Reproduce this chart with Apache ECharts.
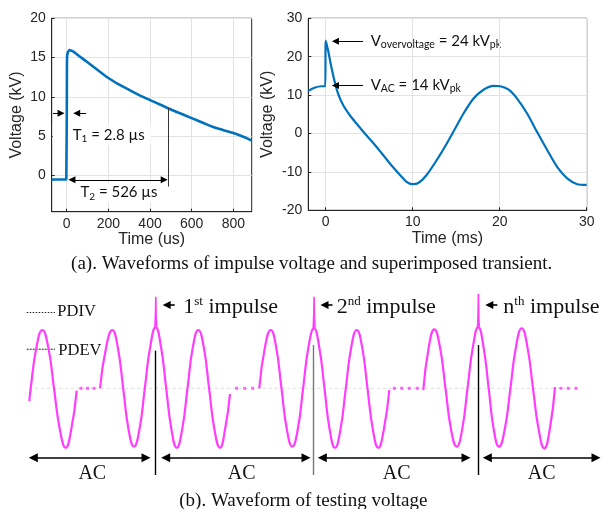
<!DOCTYPE html>
<html><head><meta charset="utf-8">
<script src="https://cdn.jsdelivr.net/npm/echarts@6/dist/echarts.min.js"></script>
<style>html,body{margin:0;padding:0;background:#fff}#c{width:606px;height:509px}</style>
</head><body><div id="c"></div>
<script>
// ---------- (a) left: impulse voltage (time in us, voltage in kV) ----------
const impulseTime = [-72,-50,-25,-2,0,0.5,1,2,4,8,14,20,30,50,75,100,150,200,250,300,350,400,450,500,550,600,650,700,750,800,850,888];
const impulseVolt = [-0.5,-0.5,-0.5,-0.5,-0.5,8,13,15.2,15.5,15.8,15.95,15.9,15.8,15.4,14.9,14.4,13.4,12.4,11.6,10.9,10.2,9.6,9.0,8.4,7.85,7.3,6.75,6.2,5.8,5.4,4.9,4.45];
const impulseXTicks = [0,200,400,600,800];
const impulseYTicks = [0,5,10,15,20];

// ---------- (a) right: superimposed transient (time in ms, voltage in kV) ----------
const transientTime = [-2,-1.3,-0.5,-0.05,0,0.27,0.65,1.04,1.42,2.0,2.77,3.54,4.5,5.85,7.38,8.54,9.3,9.96,10.65,11.6,12.77,13.92,14.88,15.84,16.99,18.14,19.3,20.07,21.03,22.0,23.15,24.3,25.46,26.6,27.76,28.9,30];
const transientVolt = [11.1,11.9,12.3,12.3,24.2,21.7,17.3,13.4,10.4,7.4,4.75,2.6,0,-3.5,-7.8,-10.8,-12.6,-13.2,-12.9,-10.8,-6.9,-2.6,1.3,5.2,9.1,11.4,12.4,12.3,11.4,9.1,5.2,0.4,-4.3,-8.7,-11.7,-13.2,-13.4];
const transientXTicks = [0,10,20,30];

// ---------- (b) schematic testing voltage (x: schematic position, y: per-unit of AC peak) ----------
const acSeg1 = [[29.3,-0.22],[30.7,0],[36.5,0.71],[42.3,1],[48.2,0.71],[54,0],[59.9,-0.71],[65.7,-1.02],[71.2,-0.71],[76.7,-0.04]];
const acSeg2 = [[100,0],[106.2,0.71],[112.3,1],[117.7,0.71],[123.2,0],[128.6,-0.71],[134,-1.0],[139.4,-0.71],[144.8,0],[150.2,0.71],[155.7,1.05],[161,0.71],[166.2,0],[171.5,-0.71],[176.7,-1.02],[182.1,-0.71],[187.5,0],[192.9,0.71],[198.3,1.0],[203.7,0.71],[209.1,0],[214.5,-0.71],[220,-1.02],[225,-0.71],[230,-0.1]];
const acSeg3 = [[259.3,0],[265,0.71],[270.7,1],[276.1,0.71],[281.5,0],[286.9,-0.71],[292.3,-1.0],[297.7,-0.71],[303.1,0],[308.5,0.71],[314,1.03],[319.2,0.71],[324.5,0],[329.7,-0.71],[335,-1.02],[340.4,-0.71],[345.8,0],[351.3,0.71],[356.7,1],[362.1,0.71],[367.5,0],[372.9,-0.71],[378.3,-1.02],[383.8,-0.71],[389.3,-0.03]];
const acSeg4 = [[423.3,-0.03],[428.8,0.71],[434.3,1.01],[439.9,0.71],[445.5,0],[451.1,-0.71],[456.7,-1.0],[462.1,-0.71],[467.5,0],[472.9,0.71],[478.3,1.05],[483.5,0.71],[488.7,0],[493.8,-0.71],[499,-1.0],[504.7,-0.71],[510.4,0],[516,0.71],[521.7,1.03],[527.4,0.71],[533,0],[538.7,-0.71],[544.3,-1.03],[549.7,-0.71],[555,0.02]];
const spike1 = [[154.9,1.02],[155.5,1.3],[155.8,1.57],[156.2,1.2],[156.7,1.06]];
const spike2 = [[313.2,1.0],[313.8,1.3],[314.1,1.57],[314.5,1.2],[315,1.04]];
const spike3 = [[477.5,1.02],[478.1,1.3],[478.4,1.62],[478.8,1.2],[479.3,1.06]];
const gapDots = [[81,0],[87.5,0],[94,0],[236.7,0],[244.7,0],[252.7,0],[394.3,0],[401.7,0],[409.3,0],[417.3,0],[561,0],[568.3,0],[576,0]];
const baseLine = [[29,0],[580,0]];
const pdivLine = [[26.7,1.30],[55,1.30]];
const pdevLine = [[26.7,0.67],[55,0.67]];
const impulseX = [155.7,313.5,478.3];
const impulseMarkTop = [0.645,0.743,0.743];
const impulseMarkBottom = -1.487;
const acSpans = [[29.3,150],[161.7,310],[318.3,470],[483.3,600]];
const acArrowLevel = -1.19;
const impulseArrowLevel = 1.43;

const MAG = '#ff3cff';
const AX = '#262626';
const SANS = 'Liberation Sans';
const SERIF = 'Liberation Serif';
const CAL = 'Lato';

function zip(a, b) { return a.map((v, i) => [v, b[i]]); }

const chart = echarts.init(document.getElementById('c'), null, {renderer: 'canvas'});

const axLabel = {fontFamily: SANS, fontSize: 14, color: AX};
const nameStyle = {fontFamily: SANS, fontSize: 16, color: AX};
const split = {show: true, lineStyle: {color: '#e3e3e3', width: 1}};
const axLine = {onZero: false, lineStyle: {color: AX, width: 1}};
const tick = (vals) => vals ? {inside: true, length: 3, lineStyle: {color: AX}, customValues: vals} : {inside: true, length: 3, lineStyle: {color: AX}};
const calRich = {b: {fontFamily: CAL, fontSize: 15, lineHeight: 18, verticalAlign: 'middle', fill: '#111'},
                 s: {fontFamily: CAL, fontSize: 10, lineHeight: 10, verticalAlign: 'bottom', fill: '#111'}};
const calRich2 = {b: calRich.b, s: {fontFamily: CAL, fontSize: 10.5, lineHeight: 10, verticalAlign: 'bottom', fill: '#111'}};

const option = {
  animation: false,
  backgroundColor: '#fff',
  grid: [
    {left: 51.7, top: 18.3, width: 200, height: 193.4, show: true, borderColor: AX, borderWidth: 1, backgroundColor: 'transparent'},
    {left: 308.3, top: 18.3, width: 278.4, height: 192, show: true, borderColor: AX, borderWidth: 1, backgroundColor: 'transparent'},
    {left: 0, top: 271.7, width: 606, height: 233.2, show: false}
  ],
  xAxis: [
    {gridIndex: 0, type: 'value', min: -72, max: 888, axisLine: axLine, axisTick: tick(impulseXTicks),
     axisLabel: Object.assign({customValues: impulseXTicks, margin: 5}, axLabel), splitLine: split,
     name: 'Time (us)', nameLocation: 'middle', nameGap: 20, nameTextStyle: nameStyle},
    {gridIndex: 1, type: 'value', min: -2, max: 30, axisLine: axLine, axisTick: tick(transientXTicks),
     axisLabel: Object.assign({customValues: transientXTicks, margin: 5}, axLabel), splitLine: split,
     name: 'Time (ms)', nameLocation: 'middle', nameGap: 20, nameTextStyle: nameStyle},
    {gridIndex: 2, type: 'value', min: 0, max: 606, show: false}
  ],
  yAxis: [
    {gridIndex: 0, type: 'value', min: -4.6, max: 20, axisLine: axLine, axisTick: tick(impulseYTicks),
     axisLabel: Object.assign({customValues: impulseYTicks, margin: 6}, axLabel), splitLine: split,
     name: 'Voltage (kV)', nameLocation: 'middle', nameGap: 27, nameTextStyle: nameStyle},
    {gridIndex: 1, type: 'value', min: -20, max: 30, interval: 10, axisLine: axLine, axisTick: tick(null),
     axisLabel: Object.assign({margin: 6}, axLabel), splitLine: split,
     name: 'Voltage (kV)', nameLocation: 'middle', nameGap: 33, nameTextStyle: nameStyle},
    {gridIndex: 2, type: 'value', min: -2, max: 2, show: false}
  ],
  series: [
    {type: 'line', xAxisIndex: 0, yAxisIndex: 0, data: zip(impulseTime, impulseVolt), showSymbol: false,
     smooth: 0.3, lineStyle: {color: '#0072BD', width: 2.6}, itemStyle: {color: '#0072BD'}, z: 3,
     markLine: {silent: true, symbol: ['none', 'triangle'], symbolSize: 7, label: {show: false},
       lineStyle: {color: '#000', width: 1, type: 'solid'},
       data: [
         [{coord: [-66, 7.93]}, {coord: [-27, 7.93]}],
         [{coord: [93, 7.93]}, {coord: [48, 7.93]}],
         [{coord: [25, -0.55], symbol: 'triangle'}, {coord: [468, -0.55]}],
         [{coord: [488, 8.6], symbol: 'none'}, {coord: [488, -1.4], symbol: 'none', lineStyle: {color: '#333'}}]
       ]}},
    {type: 'line', xAxisIndex: 1, yAxisIndex: 1, data: zip(transientTime, transientVolt), showSymbol: false,
     smooth: 0.25, lineStyle: {color: '#0072BD', width: 2.2}, itemStyle: {color: '#0072BD'}, z: 3,
     markLine: {silent: true, symbol: ['none', 'triangle'], symbolSize: 7, label: {show: false},
       lineStyle: {color: '#000', width: 1, type: 'solid'},
       data: [
         [{coord: [4.3, 24]}, {coord: [1.12, 24]}],
         [{coord: [4.3, 12.5]}, {coord: [1.12, 12.5]}]
       ]}},
    {type: 'line', xAxisIndex: 2, yAxisIndex: 2, data: baseLine, showSymbol: false,
     lineStyle: {color: '#dcdcdc', width: 1, type: [3, 3]}, z: 1},
    {type: 'line', xAxisIndex: 2, yAxisIndex: 2, data: pdivLine, showSymbol: false,
     lineStyle: {color: '#222', width: 1, type: [1.5, 1.5]}},
    {type: 'line', xAxisIndex: 2, yAxisIndex: 2, data: pdevLine, showSymbol: false,
     lineStyle: {color: '#222', width: 1, type: [2, 1]}},
    ...[acSeg1, acSeg2, acSeg3, acSeg4].map(seg => ({type: 'line', xAxisIndex: 2, yAxisIndex: 2, data: seg,
      showSymbol: false, smooth: 0.5, lineStyle: {color: MAG, width: 2.2}, z: 3})),
    ...[spike1, spike2, spike3].map(seg => ({type: 'line', xAxisIndex: 2, yAxisIndex: 2, data: seg,
      showSymbol: false, smooth: false, lineStyle: {color: MAG, width: 1.6}, z: 3})),
    {type: 'scatter', xAxisIndex: 2, yAxisIndex: 2, data: gapDots, symbol: 'rect', symbolSize: 3,
     itemStyle: {color: MAG}, z: 3},
    {type: 'line', xAxisIndex: 2, yAxisIndex: 2, data: [], showSymbol: false, z: 4,
     markLine: {silent: true, symbol: ['triangle', 'triangle'], symbolSize: 9, label: {show: false},
       lineStyle: {color: '#000', width: 1.6, type: 'solid'},
       data: acSpans.map(s => [{coord: [s[0] + 4, acArrowLevel]}, {coord: [s[1] - 4, acArrowLevel]}])
         .concat(impulseX.map((x, i) => [
           {coord: [x, impulseMarkTop[i]], symbol: 'none'},
           {coord: [x, impulseMarkBottom], symbol: 'none', lineStyle: {color: i === 1 ? '#777' : '#000', width: 1.4}}
         ]))
         .concat(impulseX.map(x => [
           {coord: [x + 19, impulseArrowLevel], symbol: 'none'},
           {coord: [x + 11, impulseArrowLevel], symbol: 'triangle', symbolSize: 8}
         ]))
     }}
  ],
  graphic: [
    // (a) left annotations (white text boxes sit between grid lines and the curve)
    {type: 'text', z: 1, x: 52.7, y: 135, style: {text: '{b|T}{s|1}{b| = 2.8 µs}', align: 'left', verticalAlign: 'middle',
      backgroundColor: '#fff', padding: [1, 6, 1, 20], rich: calRich}},
    {type: 'text', z: 1, x: 119, y: 192.5, style: {text: '{b|T}{s|2}{b| = 526 µs}', align: 'center', verticalAlign: 'middle',
      backgroundColor: '#fff', padding: [1, 3, 1, 3], rich: calRich}},
    // (a) right annotations
    {type: 'text', x: 370.7, y: 40.7, style: {text: '{b|V}{s|overvoltage}{b| = 24 kV}{s|pk}', align: 'left', verticalAlign: 'middle', rich: calRich2}},
    {type: 'text', x: 370.7, y: 85, style: {text: '{b|V}{s|AC}{b| = 14 kV}{s|pk}', align: 'left', verticalAlign: 'middle', rich: calRich2}},
    {type: 'text', x: 311.7, y: 264, style: {text: '(a). Waveforms of impulse voltage and superimposed transient.',
      fontFamily: SERIF, fontSize: 19, fill: '#111', align: 'center', verticalAlign: 'middle'}},
    // (b) annotations
    {type: 'text', x: 57.3, y: 312, style: {text: 'PDIV', fontFamily: SERIF, fontSize: 16.5, fill: '#111', align: 'left', verticalAlign: 'middle'}},
    {type: 'text', x: 58.3, y: 350.3, style: {text: 'PDEV', fontFamily: SERIF, fontSize: 16.5, fill: '#111', align: 'left', verticalAlign: 'middle'}},
    ...[['1', 'st', 183.3], ['2', 'nd', 336.7], ['n', 'th', 503.3]].map(a => ({type: 'text', x: a[2], y: 307,
      style: {text: '{n|' + a[0] + '}{p|' + a[1] + '}{n| impulse}', align: 'left', verticalAlign: 'middle',
        rich: {n: {fontFamily: SERIF, fontSize: 22, lineHeight: 24, verticalAlign: 'middle', fill: '#111'},
               p: {fontFamily: SERIF, fontSize: 13, lineHeight: 13, verticalAlign: 'top', fill: '#111'}}}})),
    ...[92.3, 241.7, 396.7, 541.7].map(x => ({type: 'text', x: x, y: 474, style: {text: 'AC', fontFamily: SERIF, fontSize: 20,
      fill: '#111', align: 'center', verticalAlign: 'middle'}})),
    {type: 'text', x: 303.3, y: 501, style: {text: '(b). Waveform of testing voltage',
      fontFamily: SERIF, fontSize: 19, fill: '#111', align: 'center', verticalAlign: 'middle'}}
  ]
};
chart.setOption(option);
</script></body></html>
